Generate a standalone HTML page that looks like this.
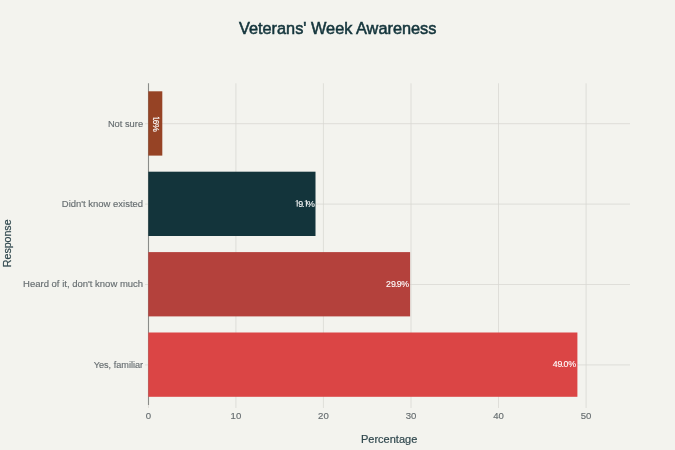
<!DOCTYPE html>
<html><head><meta charset="utf-8">
<style>
html,body{margin:0;padding:0;background:#F3F3EE;}
body{width:675px;height:450px;overflow:hidden;}
svg{will-change:transform;display:block;font-family:"Liberation Sans",sans-serif;}
</style></head>
<body>
<svg width="675" height="450" viewBox="0 0 675 450">
<rect x="0" y="0" width="675" height="450" fill="#F3F3EE"/>
<!-- gridlines vertical -->
<g stroke="#D8D7D1" stroke-width="0.75">
<line x1="235.9" y1="83.3" x2="235.9" y2="408"/>
<line x1="323.4" y1="83.3" x2="323.4" y2="408"/>
<line x1="411" y1="83.3" x2="411" y2="408"/>
<line x1="498.5" y1="83.3" x2="498.5" y2="408"/>
<line x1="586.1" y1="83.3" x2="586.1" y2="408"/>
</g>
<!-- gridlines horizontal -->
<g stroke="#D8D7D1" stroke-width="0.75">
<line x1="145" y1="123.7" x2="630" y2="123.7"/>
<line x1="145" y1="204.1" x2="630" y2="204.1"/>
<line x1="145" y1="284.5" x2="630" y2="284.5"/>
<line x1="145" y1="364.9" x2="630" y2="364.9"/>
</g>
<!-- axis line -->
<line x1="148.5" y1="83.3" x2="148.5" y2="405" stroke="#8A8C89" stroke-width="1.1"/>
<line x1="148.5" y1="405" x2="148.5" y2="408" stroke="#DFDDD8" stroke-width="1"/>
<!-- bars -->
<rect x="148.3" y="91.3" width="14.0" height="64.3" fill="#964325"/>
<rect x="148.3" y="171.7" width="167.2" height="64.3" fill="#13343B"/>
<rect x="148.3" y="252.1" width="261.8" height="64.3" fill="#B4413C"/>
<rect x="148.3" y="332.5" width="429.1" height="64.3" fill="#DB4545"/>
<!-- title -->
<text x="337.7" y="33.6" text-anchor="middle" font-size="17" fill="#13343B" stroke="#13343B" stroke-width="0.55" textLength="197.5" lengthAdjust="spacingAndGlyphs">Veterans' Week Awareness</text>
<!-- y tick labels -->
<g font-size="9.6" fill="#666D70" stroke="#666D70" stroke-width="0.15" text-anchor="end">
<text x="143.1" y="126.6" textLength="35.2" lengthAdjust="spacingAndGlyphs">Not sure</text>
<text x="143.1" y="207" textLength="81.3" lengthAdjust="spacingAndGlyphs">Didn't know existed</text>
<text x="143.1" y="287.4" textLength="120" lengthAdjust="spacingAndGlyphs">Heard of it, don't know much</text>
<text x="143.1" y="367.8" textLength="49.4" lengthAdjust="spacingAndGlyphs">Yes, familiar</text>
</g>
<!-- x tick labels -->
<g font-size="9.6" fill="#666D70" stroke="#666D70" stroke-width="0.15" text-anchor="middle">
<text x="148.3" y="419.2">0</text>
<text x="235.9" y="419.2">10</text>
<text x="323.4" y="419.2">20</text>
<text x="411" y="419.2">30</text>
<text x="498.5" y="419.2">40</text>
<text x="586.1" y="419.2">50</text>
</g>
<!-- axis titles -->
<text x="389.1" y="442.8" text-anchor="middle" font-size="11.2" fill="#2F474D" stroke="#2F474D" stroke-width="0.2" textLength="56.4" lengthAdjust="spacingAndGlyphs">Percentage</text>
<text transform="translate(10.9,243.3) rotate(-90)" text-anchor="middle" font-size="10.5" fill="#2F474D" stroke="#2F474D" stroke-width="0.2" textLength="47.7" lengthAdjust="spacingAndGlyphs">Response</text>
<!-- bar labels -->
<g font-size="8.8" fill="#FFFFFF" stroke="#FFFFFF" stroke-width="0.12">
<text x="298.16 301.98 306.99" y="206.6">9.%</text>
<text x="385.96 391.01 395.03 396.76 401.19" y="287.0">29.9%</text>
<text x="552.78 557.51 561.58 563.56 568.29" y="367.3">49.0%</text>
<text transform="translate(153.0,123.5) rotate(90)" x="-5.6 -3.9 0.5" y="0">.6%</text>
</g>
<g fill="none" stroke="#FFFFFF" stroke-width="1" stroke-linecap="butt" stroke-linejoin="miter">
<path d="M297.2 206.6 V200.3 L295.9 201.6"/>
<path d="M306.35 206.6 V200.3 L305.05 201.6"/>
<path d="M153.0 118.2 H159.3 L158.0 116.9"/>
</g>
</svg>
</body></html>
